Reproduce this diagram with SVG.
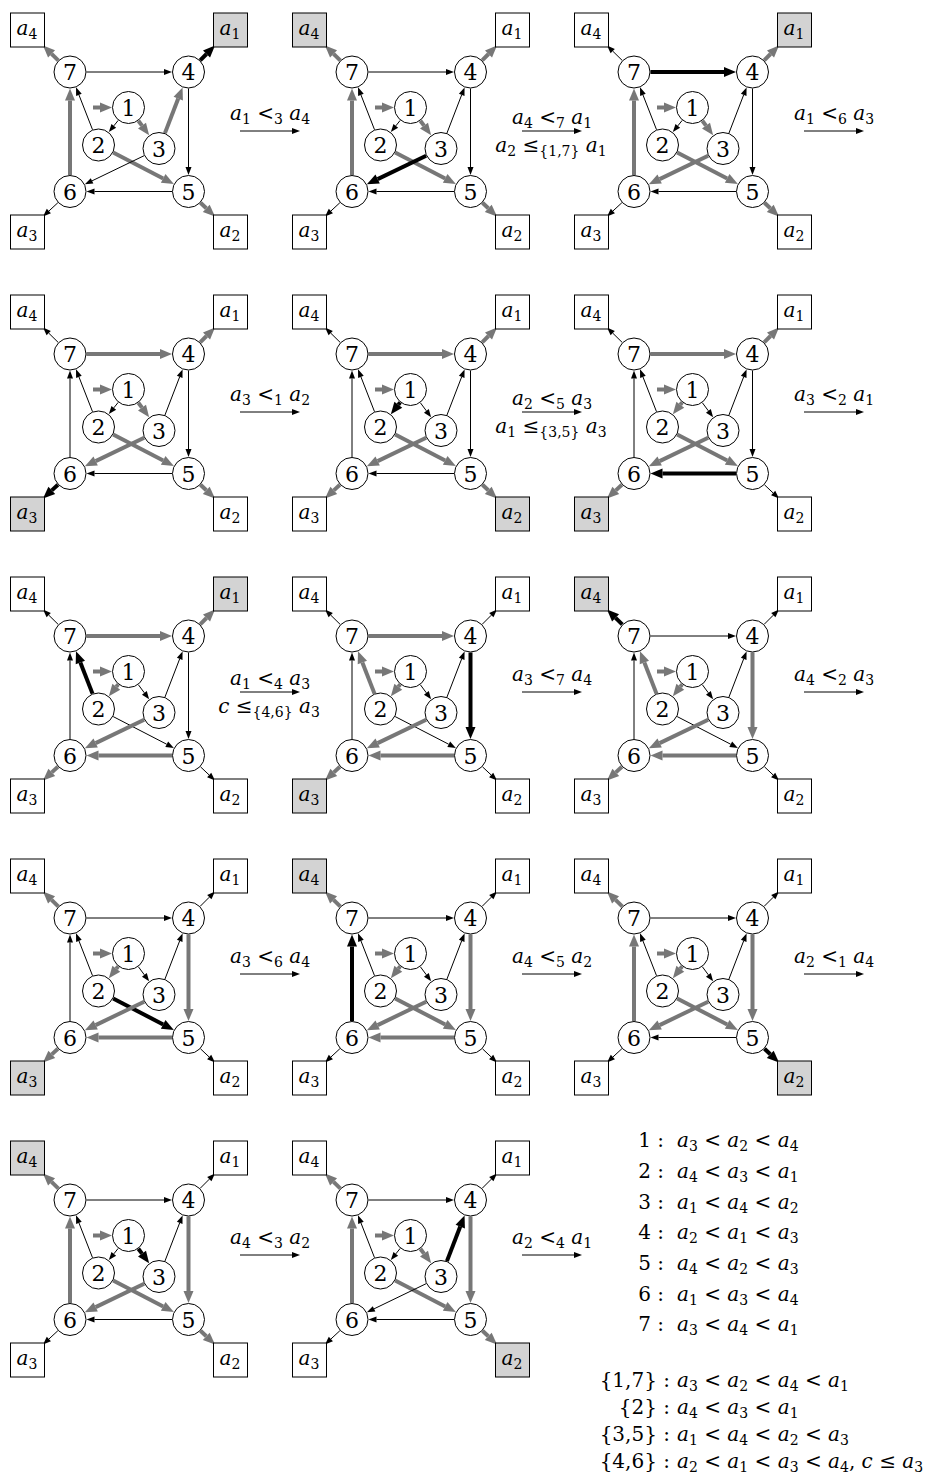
<svg xmlns="http://www.w3.org/2000/svg" width="947" height="1479" viewBox="0 0 947 1479">
<style>
.n circle{fill:#fff;stroke:#000;stroke-width:1}
.b rect{fill:#fff;stroke:#000;stroke-width:1}
.b.h rect{fill:#d3d3d3}
text{font-family:"DejaVu Serif","Liberation Serif",serif;fill:#000}
.d{font-size:22px;text-anchor:middle}
.bt{font-size:20px;text-anchor:middle}
.m{font-size:20px}
.mc{font-size:20px;text-anchor:middle}
.me{font-size:20px;text-anchor:end}
.i{font-style:italic}
.s{font-size:14px}
.et{fill:none;stroke:#000;stroke-width:1;marker-end:url(#mt)}
.eg{fill:none;stroke:#777;stroke-width:4;marker-end:url(#mg)}
.ek{fill:none;stroke:#000;stroke-width:4;marker-end:url(#mk)}
</style>
<defs>
<marker id="mt" markerUnits="userSpaceOnUse" markerWidth="9" markerHeight="7" refX="0" refY="3.5" orient="auto" overflow="visible"><path d="M0,0.5L8,3.5L0,6.5z" fill="#000"/></marker>
<marker id="mg" markerUnits="userSpaceOnUse" markerWidth="12" markerHeight="10" refX="0" refY="5" orient="auto" overflow="visible"><path d="M0,0L12,5L0,10z" fill="#777"/></marker>
<marker id="mk" markerUnits="userSpaceOnUse" markerWidth="12" markerHeight="10" refX="0" refY="5" orient="auto" overflow="visible"><path d="M0,0L12,5L0,10z" fill="#000"/></marker>
<path id="es" d="M93,107.5L100,107.5"/>
<path id="e12t" d="M118.19,120.38L113.81,125.87"/>
<path id="e12k" d="M118.19,120.38L116.31,122.75"/>
<path id="e13t" d="M138.35,120.74L144.37,128.84"/>
<path id="e13k" d="M138.35,120.74L141.99,125.63"/>
<path id="e27t" d="M92.5,129.63L78.91,94.82"/>
<path id="e27k" d="M92.5,129.63L80.36,98.55"/>
<path id="e25t" d="M113.16,152.57L166.73,180.26"/>
<path id="e25k" d="M113.16,152.57L163.18,178.42"/>
<path id="e34t" d="M164.94,133.11L179.68,94.85"/>
<path id="e34k" d="M164.94,133.11L178.24,98.59"/>
<path id="e36t" d="M144.14,155.68L92.06,180.84"/>
<path id="e36k" d="M144.14,155.68L95.66,179.1"/>
<path id="e74t" d="M86.5,72L164,72"/>
<path id="e74k" d="M86.5,72L160,72"/>
<path id="e45t" d="M188.5,88.5L188.5,167"/>
<path id="e45k" d="M188.5,88.5L188.5,163"/>
<path id="e56t" d="M172,191.5L94.5,191.5"/>
<path id="e56k" d="M172,191.5L98.5,191.5"/>
<path id="e67t" d="M70,175L70,96.5"/>
<path id="e67k" d="M70,175L70,100.5"/>
<path id="e7at" d="M58.22,60.44L48.71,51.1"/>
<path id="e7ak" d="M58.22,60.44L51.56,53.91"/>
<path id="e4at" d="M200.17,60.33L209.34,51.16"/>
<path id="e4ak" d="M200.17,60.33L206.51,53.99"/>
<path id="e6at" d="M57.89,202.71L48.87,211.06"/>
<path id="e6ak" d="M57.89,202.71L51.8,208.35"/>
<path id="e5at" d="M200.5,202.82L209.18,211.01"/>
<path id="e5ak" d="M200.5,202.82L206.27,208.27"/>
</defs>

<!-- Panel 1 -->
<g id="panel1" transform="translate(0,0)">
<g id="p1-edges"><use href="#es" class="eg"/><use href="#e12t" class="et"/><use href="#e13k" class="eg"/><use href="#e27t" class="et"/><use href="#e25k" class="eg"/><use href="#e34k" class="eg"/><use href="#e36t" class="et"/><use href="#e74t" class="et"/><use href="#e45t" class="et"/><use href="#e56t" class="et"/><use href="#e67k" class="eg"/><use href="#e7ak" class="eg"/><use href="#e4ak" class="ek"/><use href="#e6at" class="et"/><use href="#e5ak" class="eg"/></g>
<g id="p1-n1" class="n"><circle cx="128.5" cy="107.5" r="16"/><text class="d" x="128.5" y="115.5">1</text></g>
<g id="p1-n2" class="n"><circle cx="98.5" cy="145" r="16"/><text class="d" x="98.5" y="153">2</text></g>
<g id="p1-n3" class="n"><circle cx="159" cy="148.5" r="16"/><text class="d" x="159" y="156.5">3</text></g>
<g id="p1-n4" class="n"><circle cx="188.5" cy="72" r="16"/><text class="d" x="188.5" y="80">4</text></g>
<g id="p1-n5" class="n"><circle cx="188.5" cy="191.5" r="16"/><text class="d" x="188.5" y="199.5">5</text></g>
<g id="p1-n6" class="n"><circle cx="70" cy="191.5" r="16"/><text class="d" x="70" y="199.5">6</text></g>
<g id="p1-n7" class="n"><circle cx="70" cy="72" r="16"/><text class="d" x="70" y="80">7</text></g>
<g id="p1-a4" class="b"><rect x="10.5" y="13" width="34" height="34"/><text class="bt" x="27" y="35"><tspan class="i">a</tspan><tspan class="s" dy="3.5">4</tspan></text></g>
<g id="p1-a1" class="b h"><rect x="213.5" y="13" width="34" height="34"/><text class="bt" x="230" y="35"><tspan class="i">a</tspan><tspan class="s" dy="3.5">1</tspan></text></g>
<g id="p1-a3" class="b"><rect x="10.5" y="215" width="34" height="34"/><text class="bt" x="27" y="237"><tspan class="i">a</tspan><tspan class="s" dy="3.5">3</tspan></text></g>
<g id="p1-a2" class="b"><rect x="213.5" y="215" width="34" height="34"/><text class="bt" x="230" y="237"><tspan class="i">a</tspan><tspan class="s" dy="3.5">2</tspan></text></g>
</g>

<!-- Panel 2 -->
<g id="panel2" transform="translate(282,0)">
<g id="p2-edges"><use href="#es" class="eg"/><use href="#e12t" class="et"/><use href="#e13k" class="eg"/><use href="#e27t" class="et"/><use href="#e25k" class="eg"/><use href="#e34t" class="et"/><use href="#e36k" class="ek"/><use href="#e74t" class="et"/><use href="#e45t" class="et"/><use href="#e56t" class="et"/><use href="#e67k" class="eg"/><use href="#e7ak" class="eg"/><use href="#e4ak" class="eg"/><use href="#e6at" class="et"/><use href="#e5ak" class="eg"/></g>
<g id="p2-n1" class="n"><circle cx="128.5" cy="107.5" r="16"/><text class="d" x="128.5" y="115.5">1</text></g>
<g id="p2-n2" class="n"><circle cx="98.5" cy="145" r="16"/><text class="d" x="98.5" y="153">2</text></g>
<g id="p2-n3" class="n"><circle cx="159" cy="148.5" r="16"/><text class="d" x="159" y="156.5">3</text></g>
<g id="p2-n4" class="n"><circle cx="188.5" cy="72" r="16"/><text class="d" x="188.5" y="80">4</text></g>
<g id="p2-n5" class="n"><circle cx="188.5" cy="191.5" r="16"/><text class="d" x="188.5" y="199.5">5</text></g>
<g id="p2-n6" class="n"><circle cx="70" cy="191.5" r="16"/><text class="d" x="70" y="199.5">6</text></g>
<g id="p2-n7" class="n"><circle cx="70" cy="72" r="16"/><text class="d" x="70" y="80">7</text></g>
<g id="p2-a4" class="b h"><rect x="10.5" y="13" width="34" height="34"/><text class="bt" x="27" y="35"><tspan class="i">a</tspan><tspan class="s" dy="3.5">4</tspan></text></g>
<g id="p2-a1" class="b"><rect x="213.5" y="13" width="34" height="34"/><text class="bt" x="230" y="35"><tspan class="i">a</tspan><tspan class="s" dy="3.5">1</tspan></text></g>
<g id="p2-a3" class="b"><rect x="10.5" y="215" width="34" height="34"/><text class="bt" x="27" y="237"><tspan class="i">a</tspan><tspan class="s" dy="3.5">3</tspan></text></g>
<g id="p2-a2" class="b"><rect x="213.5" y="215" width="34" height="34"/><text class="bt" x="230" y="237"><tspan class="i">a</tspan><tspan class="s" dy="3.5">2</tspan></text></g>
</g>

<!-- Panel 3 -->
<g id="panel3" transform="translate(564,0)">
<g id="p3-edges"><use href="#es" class="eg"/><use href="#e12t" class="et"/><use href="#e13k" class="eg"/><use href="#e27t" class="et"/><use href="#e25k" class="eg"/><use href="#e34t" class="et"/><use href="#e36k" class="eg"/><use href="#e74k" class="ek"/><use href="#e45t" class="et"/><use href="#e56t" class="et"/><use href="#e67k" class="eg"/><use href="#e7at" class="et"/><use href="#e4ak" class="eg"/><use href="#e6at" class="et"/><use href="#e5ak" class="eg"/></g>
<g id="p3-n1" class="n"><circle cx="128.5" cy="107.5" r="16"/><text class="d" x="128.5" y="115.5">1</text></g>
<g id="p3-n2" class="n"><circle cx="98.5" cy="145" r="16"/><text class="d" x="98.5" y="153">2</text></g>
<g id="p3-n3" class="n"><circle cx="159" cy="148.5" r="16"/><text class="d" x="159" y="156.5">3</text></g>
<g id="p3-n4" class="n"><circle cx="188.5" cy="72" r="16"/><text class="d" x="188.5" y="80">4</text></g>
<g id="p3-n5" class="n"><circle cx="188.5" cy="191.5" r="16"/><text class="d" x="188.5" y="199.5">5</text></g>
<g id="p3-n6" class="n"><circle cx="70" cy="191.5" r="16"/><text class="d" x="70" y="199.5">6</text></g>
<g id="p3-n7" class="n"><circle cx="70" cy="72" r="16"/><text class="d" x="70" y="80">7</text></g>
<g id="p3-a4" class="b"><rect x="10.5" y="13" width="34" height="34"/><text class="bt" x="27" y="35"><tspan class="i">a</tspan><tspan class="s" dy="3.5">4</tspan></text></g>
<g id="p3-a1" class="b h"><rect x="213.5" y="13" width="34" height="34"/><text class="bt" x="230" y="35"><tspan class="i">a</tspan><tspan class="s" dy="3.5">1</tspan></text></g>
<g id="p3-a3" class="b"><rect x="10.5" y="215" width="34" height="34"/><text class="bt" x="27" y="237"><tspan class="i">a</tspan><tspan class="s" dy="3.5">3</tspan></text></g>
<g id="p3-a2" class="b"><rect x="213.5" y="215" width="34" height="34"/><text class="bt" x="230" y="237"><tspan class="i">a</tspan><tspan class="s" dy="3.5">2</tspan></text></g>
</g>

<!-- Panel 4 -->
<g id="panel4" transform="translate(0,282)">
<g id="p4-edges"><use href="#es" class="eg"/><use href="#e12t" class="et"/><use href="#e13k" class="eg"/><use href="#e27t" class="et"/><use href="#e25k" class="eg"/><use href="#e34t" class="et"/><use href="#e36k" class="eg"/><use href="#e74k" class="eg"/><use href="#e45t" class="et"/><use href="#e56t" class="et"/><use href="#e67t" class="et"/><use href="#e7at" class="et"/><use href="#e4ak" class="eg"/><use href="#e6ak" class="ek"/><use href="#e5ak" class="eg"/></g>
<g id="p4-n1" class="n"><circle cx="128.5" cy="107.5" r="16"/><text class="d" x="128.5" y="115.5">1</text></g>
<g id="p4-n2" class="n"><circle cx="98.5" cy="145" r="16"/><text class="d" x="98.5" y="153">2</text></g>
<g id="p4-n3" class="n"><circle cx="159" cy="148.5" r="16"/><text class="d" x="159" y="156.5">3</text></g>
<g id="p4-n4" class="n"><circle cx="188.5" cy="72" r="16"/><text class="d" x="188.5" y="80">4</text></g>
<g id="p4-n5" class="n"><circle cx="188.5" cy="191.5" r="16"/><text class="d" x="188.5" y="199.5">5</text></g>
<g id="p4-n6" class="n"><circle cx="70" cy="191.5" r="16"/><text class="d" x="70" y="199.5">6</text></g>
<g id="p4-n7" class="n"><circle cx="70" cy="72" r="16"/><text class="d" x="70" y="80">7</text></g>
<g id="p4-a4" class="b"><rect x="10.5" y="13" width="34" height="34"/><text class="bt" x="27" y="35"><tspan class="i">a</tspan><tspan class="s" dy="3.5">4</tspan></text></g>
<g id="p4-a1" class="b"><rect x="213.5" y="13" width="34" height="34"/><text class="bt" x="230" y="35"><tspan class="i">a</tspan><tspan class="s" dy="3.5">1</tspan></text></g>
<g id="p4-a3" class="b h"><rect x="10.5" y="215" width="34" height="34"/><text class="bt" x="27" y="237"><tspan class="i">a</tspan><tspan class="s" dy="3.5">3</tspan></text></g>
<g id="p4-a2" class="b"><rect x="213.5" y="215" width="34" height="34"/><text class="bt" x="230" y="237"><tspan class="i">a</tspan><tspan class="s" dy="3.5">2</tspan></text></g>
</g>

<!-- Panel 5 -->
<g id="panel5" transform="translate(282,282)">
<g id="p5-edges"><use href="#es" class="eg"/><use href="#e12k" class="ek"/><use href="#e13t" class="et"/><use href="#e27t" class="et"/><use href="#e25k" class="eg"/><use href="#e34t" class="et"/><use href="#e36k" class="eg"/><use href="#e74k" class="eg"/><use href="#e45t" class="et"/><use href="#e56t" class="et"/><use href="#e67t" class="et"/><use href="#e7at" class="et"/><use href="#e4ak" class="eg"/><use href="#e6ak" class="eg"/><use href="#e5ak" class="eg"/></g>
<g id="p5-n1" class="n"><circle cx="128.5" cy="107.5" r="16"/><text class="d" x="128.5" y="115.5">1</text></g>
<g id="p5-n2" class="n"><circle cx="98.5" cy="145" r="16"/><text class="d" x="98.5" y="153">2</text></g>
<g id="p5-n3" class="n"><circle cx="159" cy="148.5" r="16"/><text class="d" x="159" y="156.5">3</text></g>
<g id="p5-n4" class="n"><circle cx="188.5" cy="72" r="16"/><text class="d" x="188.5" y="80">4</text></g>
<g id="p5-n5" class="n"><circle cx="188.5" cy="191.5" r="16"/><text class="d" x="188.5" y="199.5">5</text></g>
<g id="p5-n6" class="n"><circle cx="70" cy="191.5" r="16"/><text class="d" x="70" y="199.5">6</text></g>
<g id="p5-n7" class="n"><circle cx="70" cy="72" r="16"/><text class="d" x="70" y="80">7</text></g>
<g id="p5-a4" class="b"><rect x="10.5" y="13" width="34" height="34"/><text class="bt" x="27" y="35"><tspan class="i">a</tspan><tspan class="s" dy="3.5">4</tspan></text></g>
<g id="p5-a1" class="b"><rect x="213.5" y="13" width="34" height="34"/><text class="bt" x="230" y="35"><tspan class="i">a</tspan><tspan class="s" dy="3.5">1</tspan></text></g>
<g id="p5-a3" class="b"><rect x="10.5" y="215" width="34" height="34"/><text class="bt" x="27" y="237"><tspan class="i">a</tspan><tspan class="s" dy="3.5">3</tspan></text></g>
<g id="p5-a2" class="b h"><rect x="213.5" y="215" width="34" height="34"/><text class="bt" x="230" y="237"><tspan class="i">a</tspan><tspan class="s" dy="3.5">2</tspan></text></g>
</g>

<!-- Panel 6 -->
<g id="panel6" transform="translate(564,282)">
<g id="p6-edges"><use href="#es" class="eg"/><use href="#e12k" class="eg"/><use href="#e13t" class="et"/><use href="#e27t" class="et"/><use href="#e25k" class="eg"/><use href="#e34t" class="et"/><use href="#e36k" class="eg"/><use href="#e74k" class="eg"/><use href="#e45t" class="et"/><use href="#e56k" class="ek"/><use href="#e67t" class="et"/><use href="#e7at" class="et"/><use href="#e4ak" class="eg"/><use href="#e6ak" class="eg"/><use href="#e5at" class="et"/></g>
<g id="p6-n1" class="n"><circle cx="128.5" cy="107.5" r="16"/><text class="d" x="128.5" y="115.5">1</text></g>
<g id="p6-n2" class="n"><circle cx="98.5" cy="145" r="16"/><text class="d" x="98.5" y="153">2</text></g>
<g id="p6-n3" class="n"><circle cx="159" cy="148.5" r="16"/><text class="d" x="159" y="156.5">3</text></g>
<g id="p6-n4" class="n"><circle cx="188.5" cy="72" r="16"/><text class="d" x="188.5" y="80">4</text></g>
<g id="p6-n5" class="n"><circle cx="188.5" cy="191.5" r="16"/><text class="d" x="188.5" y="199.5">5</text></g>
<g id="p6-n6" class="n"><circle cx="70" cy="191.5" r="16"/><text class="d" x="70" y="199.5">6</text></g>
<g id="p6-n7" class="n"><circle cx="70" cy="72" r="16"/><text class="d" x="70" y="80">7</text></g>
<g id="p6-a4" class="b"><rect x="10.5" y="13" width="34" height="34"/><text class="bt" x="27" y="35"><tspan class="i">a</tspan><tspan class="s" dy="3.5">4</tspan></text></g>
<g id="p6-a1" class="b"><rect x="213.5" y="13" width="34" height="34"/><text class="bt" x="230" y="35"><tspan class="i">a</tspan><tspan class="s" dy="3.5">1</tspan></text></g>
<g id="p6-a3" class="b h"><rect x="10.5" y="215" width="34" height="34"/><text class="bt" x="27" y="237"><tspan class="i">a</tspan><tspan class="s" dy="3.5">3</tspan></text></g>
<g id="p6-a2" class="b"><rect x="213.5" y="215" width="34" height="34"/><text class="bt" x="230" y="237"><tspan class="i">a</tspan><tspan class="s" dy="3.5">2</tspan></text></g>
</g>

<!-- Panel 7 -->
<g id="panel7" transform="translate(0,564)">
<g id="p7-edges"><use href="#es" class="eg"/><use href="#e12k" class="eg"/><use href="#e13t" class="et"/><use href="#e27k" class="ek"/><use href="#e25t" class="et"/><use href="#e34t" class="et"/><use href="#e36k" class="eg"/><use href="#e74k" class="eg"/><use href="#e45t" class="et"/><use href="#e56k" class="eg"/><use href="#e67t" class="et"/><use href="#e7at" class="et"/><use href="#e4ak" class="eg"/><use href="#e6ak" class="eg"/><use href="#e5at" class="et"/></g>
<g id="p7-n1" class="n"><circle cx="128.5" cy="107.5" r="16"/><text class="d" x="128.5" y="115.5">1</text></g>
<g id="p7-n2" class="n"><circle cx="98.5" cy="145" r="16"/><text class="d" x="98.5" y="153">2</text></g>
<g id="p7-n3" class="n"><circle cx="159" cy="148.5" r="16"/><text class="d" x="159" y="156.5">3</text></g>
<g id="p7-n4" class="n"><circle cx="188.5" cy="72" r="16"/><text class="d" x="188.5" y="80">4</text></g>
<g id="p7-n5" class="n"><circle cx="188.5" cy="191.5" r="16"/><text class="d" x="188.5" y="199.5">5</text></g>
<g id="p7-n6" class="n"><circle cx="70" cy="191.5" r="16"/><text class="d" x="70" y="199.5">6</text></g>
<g id="p7-n7" class="n"><circle cx="70" cy="72" r="16"/><text class="d" x="70" y="80">7</text></g>
<g id="p7-a4" class="b"><rect x="10.5" y="13" width="34" height="34"/><text class="bt" x="27" y="35"><tspan class="i">a</tspan><tspan class="s" dy="3.5">4</tspan></text></g>
<g id="p7-a1" class="b h"><rect x="213.5" y="13" width="34" height="34"/><text class="bt" x="230" y="35"><tspan class="i">a</tspan><tspan class="s" dy="3.5">1</tspan></text></g>
<g id="p7-a3" class="b"><rect x="10.5" y="215" width="34" height="34"/><text class="bt" x="27" y="237"><tspan class="i">a</tspan><tspan class="s" dy="3.5">3</tspan></text></g>
<g id="p7-a2" class="b"><rect x="213.5" y="215" width="34" height="34"/><text class="bt" x="230" y="237"><tspan class="i">a</tspan><tspan class="s" dy="3.5">2</tspan></text></g>
</g>

<!-- Panel 8 -->
<g id="panel8" transform="translate(282,564)">
<g id="p8-edges"><use href="#es" class="eg"/><use href="#e12k" class="eg"/><use href="#e13t" class="et"/><use href="#e27k" class="eg"/><use href="#e25t" class="et"/><use href="#e34t" class="et"/><use href="#e36k" class="eg"/><use href="#e74k" class="eg"/><use href="#e45k" class="ek"/><use href="#e56k" class="eg"/><use href="#e67t" class="et"/><use href="#e7at" class="et"/><use href="#e4at" class="et"/><use href="#e6ak" class="eg"/><use href="#e5at" class="et"/></g>
<g id="p8-n1" class="n"><circle cx="128.5" cy="107.5" r="16"/><text class="d" x="128.5" y="115.5">1</text></g>
<g id="p8-n2" class="n"><circle cx="98.5" cy="145" r="16"/><text class="d" x="98.5" y="153">2</text></g>
<g id="p8-n3" class="n"><circle cx="159" cy="148.5" r="16"/><text class="d" x="159" y="156.5">3</text></g>
<g id="p8-n4" class="n"><circle cx="188.5" cy="72" r="16"/><text class="d" x="188.5" y="80">4</text></g>
<g id="p8-n5" class="n"><circle cx="188.5" cy="191.5" r="16"/><text class="d" x="188.5" y="199.5">5</text></g>
<g id="p8-n6" class="n"><circle cx="70" cy="191.5" r="16"/><text class="d" x="70" y="199.5">6</text></g>
<g id="p8-n7" class="n"><circle cx="70" cy="72" r="16"/><text class="d" x="70" y="80">7</text></g>
<g id="p8-a4" class="b"><rect x="10.5" y="13" width="34" height="34"/><text class="bt" x="27" y="35"><tspan class="i">a</tspan><tspan class="s" dy="3.5">4</tspan></text></g>
<g id="p8-a1" class="b"><rect x="213.5" y="13" width="34" height="34"/><text class="bt" x="230" y="35"><tspan class="i">a</tspan><tspan class="s" dy="3.5">1</tspan></text></g>
<g id="p8-a3" class="b h"><rect x="10.5" y="215" width="34" height="34"/><text class="bt" x="27" y="237"><tspan class="i">a</tspan><tspan class="s" dy="3.5">3</tspan></text></g>
<g id="p8-a2" class="b"><rect x="213.5" y="215" width="34" height="34"/><text class="bt" x="230" y="237"><tspan class="i">a</tspan><tspan class="s" dy="3.5">2</tspan></text></g>
</g>

<!-- Panel 9 -->
<g id="panel9" transform="translate(564,564)">
<g id="p9-edges"><use href="#es" class="eg"/><use href="#e12k" class="eg"/><use href="#e13t" class="et"/><use href="#e27k" class="eg"/><use href="#e25t" class="et"/><use href="#e34t" class="et"/><use href="#e36k" class="eg"/><use href="#e74t" class="et"/><use href="#e45k" class="eg"/><use href="#e56k" class="eg"/><use href="#e67t" class="et"/><use href="#e7ak" class="ek"/><use href="#e4at" class="et"/><use href="#e6ak" class="eg"/><use href="#e5at" class="et"/></g>
<g id="p9-n1" class="n"><circle cx="128.5" cy="107.5" r="16"/><text class="d" x="128.5" y="115.5">1</text></g>
<g id="p9-n2" class="n"><circle cx="98.5" cy="145" r="16"/><text class="d" x="98.5" y="153">2</text></g>
<g id="p9-n3" class="n"><circle cx="159" cy="148.5" r="16"/><text class="d" x="159" y="156.5">3</text></g>
<g id="p9-n4" class="n"><circle cx="188.5" cy="72" r="16"/><text class="d" x="188.5" y="80">4</text></g>
<g id="p9-n5" class="n"><circle cx="188.5" cy="191.5" r="16"/><text class="d" x="188.5" y="199.5">5</text></g>
<g id="p9-n6" class="n"><circle cx="70" cy="191.5" r="16"/><text class="d" x="70" y="199.5">6</text></g>
<g id="p9-n7" class="n"><circle cx="70" cy="72" r="16"/><text class="d" x="70" y="80">7</text></g>
<g id="p9-a4" class="b h"><rect x="10.5" y="13" width="34" height="34"/><text class="bt" x="27" y="35"><tspan class="i">a</tspan><tspan class="s" dy="3.5">4</tspan></text></g>
<g id="p9-a1" class="b"><rect x="213.5" y="13" width="34" height="34"/><text class="bt" x="230" y="35"><tspan class="i">a</tspan><tspan class="s" dy="3.5">1</tspan></text></g>
<g id="p9-a3" class="b"><rect x="10.5" y="215" width="34" height="34"/><text class="bt" x="27" y="237"><tspan class="i">a</tspan><tspan class="s" dy="3.5">3</tspan></text></g>
<g id="p9-a2" class="b"><rect x="213.5" y="215" width="34" height="34"/><text class="bt" x="230" y="237"><tspan class="i">a</tspan><tspan class="s" dy="3.5">2</tspan></text></g>
</g>

<!-- Panel 10 -->
<g id="panel10" transform="translate(0,846)">
<g id="p10-edges"><use href="#es" class="eg"/><use href="#e12k" class="eg"/><use href="#e13t" class="et"/><use href="#e27t" class="et"/><use href="#e25k" class="ek"/><use href="#e34t" class="et"/><use href="#e36k" class="eg"/><use href="#e74t" class="et"/><use href="#e45k" class="eg"/><use href="#e56k" class="eg"/><use href="#e67t" class="et"/><use href="#e7ak" class="eg"/><use href="#e4at" class="et"/><use href="#e6ak" class="eg"/><use href="#e5at" class="et"/></g>
<g id="p10-n1" class="n"><circle cx="128.5" cy="107.5" r="16"/><text class="d" x="128.5" y="115.5">1</text></g>
<g id="p10-n2" class="n"><circle cx="98.5" cy="145" r="16"/><text class="d" x="98.5" y="153">2</text></g>
<g id="p10-n3" class="n"><circle cx="159" cy="148.5" r="16"/><text class="d" x="159" y="156.5">3</text></g>
<g id="p10-n4" class="n"><circle cx="188.5" cy="72" r="16"/><text class="d" x="188.5" y="80">4</text></g>
<g id="p10-n5" class="n"><circle cx="188.5" cy="191.5" r="16"/><text class="d" x="188.5" y="199.5">5</text></g>
<g id="p10-n6" class="n"><circle cx="70" cy="191.5" r="16"/><text class="d" x="70" y="199.5">6</text></g>
<g id="p10-n7" class="n"><circle cx="70" cy="72" r="16"/><text class="d" x="70" y="80">7</text></g>
<g id="p10-a4" class="b"><rect x="10.5" y="13" width="34" height="34"/><text class="bt" x="27" y="35"><tspan class="i">a</tspan><tspan class="s" dy="3.5">4</tspan></text></g>
<g id="p10-a1" class="b"><rect x="213.5" y="13" width="34" height="34"/><text class="bt" x="230" y="35"><tspan class="i">a</tspan><tspan class="s" dy="3.5">1</tspan></text></g>
<g id="p10-a3" class="b h"><rect x="10.5" y="215" width="34" height="34"/><text class="bt" x="27" y="237"><tspan class="i">a</tspan><tspan class="s" dy="3.5">3</tspan></text></g>
<g id="p10-a2" class="b"><rect x="213.5" y="215" width="34" height="34"/><text class="bt" x="230" y="237"><tspan class="i">a</tspan><tspan class="s" dy="3.5">2</tspan></text></g>
</g>

<!-- Panel 11 -->
<g id="panel11" transform="translate(282,846)">
<g id="p11-edges"><use href="#es" class="eg"/><use href="#e12k" class="eg"/><use href="#e13t" class="et"/><use href="#e27t" class="et"/><use href="#e25k" class="eg"/><use href="#e34t" class="et"/><use href="#e36k" class="eg"/><use href="#e74t" class="et"/><use href="#e45k" class="eg"/><use href="#e56k" class="eg"/><use href="#e67k" class="ek"/><use href="#e7ak" class="eg"/><use href="#e4at" class="et"/><use href="#e6at" class="et"/><use href="#e5at" class="et"/></g>
<g id="p11-n1" class="n"><circle cx="128.5" cy="107.5" r="16"/><text class="d" x="128.5" y="115.5">1</text></g>
<g id="p11-n2" class="n"><circle cx="98.5" cy="145" r="16"/><text class="d" x="98.5" y="153">2</text></g>
<g id="p11-n3" class="n"><circle cx="159" cy="148.5" r="16"/><text class="d" x="159" y="156.5">3</text></g>
<g id="p11-n4" class="n"><circle cx="188.5" cy="72" r="16"/><text class="d" x="188.5" y="80">4</text></g>
<g id="p11-n5" class="n"><circle cx="188.5" cy="191.5" r="16"/><text class="d" x="188.5" y="199.5">5</text></g>
<g id="p11-n6" class="n"><circle cx="70" cy="191.5" r="16"/><text class="d" x="70" y="199.5">6</text></g>
<g id="p11-n7" class="n"><circle cx="70" cy="72" r="16"/><text class="d" x="70" y="80">7</text></g>
<g id="p11-a4" class="b h"><rect x="10.5" y="13" width="34" height="34"/><text class="bt" x="27" y="35"><tspan class="i">a</tspan><tspan class="s" dy="3.5">4</tspan></text></g>
<g id="p11-a1" class="b"><rect x="213.5" y="13" width="34" height="34"/><text class="bt" x="230" y="35"><tspan class="i">a</tspan><tspan class="s" dy="3.5">1</tspan></text></g>
<g id="p11-a3" class="b"><rect x="10.5" y="215" width="34" height="34"/><text class="bt" x="27" y="237"><tspan class="i">a</tspan><tspan class="s" dy="3.5">3</tspan></text></g>
<g id="p11-a2" class="b"><rect x="213.5" y="215" width="34" height="34"/><text class="bt" x="230" y="237"><tspan class="i">a</tspan><tspan class="s" dy="3.5">2</tspan></text></g>
</g>

<!-- Panel 12 -->
<g id="panel12" transform="translate(564,846)">
<g id="p12-edges"><use href="#es" class="eg"/><use href="#e12k" class="eg"/><use href="#e13t" class="et"/><use href="#e27t" class="et"/><use href="#e25k" class="eg"/><use href="#e34t" class="et"/><use href="#e36k" class="eg"/><use href="#e74t" class="et"/><use href="#e45k" class="eg"/><use href="#e56t" class="et"/><use href="#e67k" class="eg"/><use href="#e7ak" class="eg"/><use href="#e4at" class="et"/><use href="#e6at" class="et"/><use href="#e5ak" class="ek"/></g>
<g id="p12-n1" class="n"><circle cx="128.5" cy="107.5" r="16"/><text class="d" x="128.5" y="115.5">1</text></g>
<g id="p12-n2" class="n"><circle cx="98.5" cy="145" r="16"/><text class="d" x="98.5" y="153">2</text></g>
<g id="p12-n3" class="n"><circle cx="159" cy="148.5" r="16"/><text class="d" x="159" y="156.5">3</text></g>
<g id="p12-n4" class="n"><circle cx="188.5" cy="72" r="16"/><text class="d" x="188.5" y="80">4</text></g>
<g id="p12-n5" class="n"><circle cx="188.5" cy="191.5" r="16"/><text class="d" x="188.5" y="199.5">5</text></g>
<g id="p12-n6" class="n"><circle cx="70" cy="191.5" r="16"/><text class="d" x="70" y="199.5">6</text></g>
<g id="p12-n7" class="n"><circle cx="70" cy="72" r="16"/><text class="d" x="70" y="80">7</text></g>
<g id="p12-a4" class="b"><rect x="10.5" y="13" width="34" height="34"/><text class="bt" x="27" y="35"><tspan class="i">a</tspan><tspan class="s" dy="3.5">4</tspan></text></g>
<g id="p12-a1" class="b"><rect x="213.5" y="13" width="34" height="34"/><text class="bt" x="230" y="35"><tspan class="i">a</tspan><tspan class="s" dy="3.5">1</tspan></text></g>
<g id="p12-a3" class="b"><rect x="10.5" y="215" width="34" height="34"/><text class="bt" x="27" y="237"><tspan class="i">a</tspan><tspan class="s" dy="3.5">3</tspan></text></g>
<g id="p12-a2" class="b h"><rect x="213.5" y="215" width="34" height="34"/><text class="bt" x="230" y="237"><tspan class="i">a</tspan><tspan class="s" dy="3.5">2</tspan></text></g>
</g>

<!-- Panel 13 -->
<g id="panel13" transform="translate(0,1128)">
<g id="p13-edges"><use href="#es" class="eg"/><use href="#e12t" class="et"/><use href="#e13k" class="ek"/><use href="#e27t" class="et"/><use href="#e25k" class="eg"/><use href="#e34t" class="et"/><use href="#e36k" class="eg"/><use href="#e74t" class="et"/><use href="#e45k" class="eg"/><use href="#e56t" class="et"/><use href="#e67k" class="eg"/><use href="#e7ak" class="eg"/><use href="#e4at" class="et"/><use href="#e6at" class="et"/><use href="#e5ak" class="eg"/></g>
<g id="p13-n1" class="n"><circle cx="128.5" cy="107.5" r="16"/><text class="d" x="128.5" y="115.5">1</text></g>
<g id="p13-n2" class="n"><circle cx="98.5" cy="145" r="16"/><text class="d" x="98.5" y="153">2</text></g>
<g id="p13-n3" class="n"><circle cx="159" cy="148.5" r="16"/><text class="d" x="159" y="156.5">3</text></g>
<g id="p13-n4" class="n"><circle cx="188.5" cy="72" r="16"/><text class="d" x="188.5" y="80">4</text></g>
<g id="p13-n5" class="n"><circle cx="188.5" cy="191.5" r="16"/><text class="d" x="188.5" y="199.5">5</text></g>
<g id="p13-n6" class="n"><circle cx="70" cy="191.5" r="16"/><text class="d" x="70" y="199.5">6</text></g>
<g id="p13-n7" class="n"><circle cx="70" cy="72" r="16"/><text class="d" x="70" y="80">7</text></g>
<g id="p13-a4" class="b h"><rect x="10.5" y="13" width="34" height="34"/><text class="bt" x="27" y="35"><tspan class="i">a</tspan><tspan class="s" dy="3.5">4</tspan></text></g>
<g id="p13-a1" class="b"><rect x="213.5" y="13" width="34" height="34"/><text class="bt" x="230" y="35"><tspan class="i">a</tspan><tspan class="s" dy="3.5">1</tspan></text></g>
<g id="p13-a3" class="b"><rect x="10.5" y="215" width="34" height="34"/><text class="bt" x="27" y="237"><tspan class="i">a</tspan><tspan class="s" dy="3.5">3</tspan></text></g>
<g id="p13-a2" class="b"><rect x="213.5" y="215" width="34" height="34"/><text class="bt" x="230" y="237"><tspan class="i">a</tspan><tspan class="s" dy="3.5">2</tspan></text></g>
</g>

<!-- Panel 14 -->
<g id="panel14" transform="translate(282,1128)">
<g id="p14-edges"><use href="#es" class="eg"/><use href="#e12t" class="et"/><use href="#e13k" class="eg"/><use href="#e27t" class="et"/><use href="#e25k" class="eg"/><use href="#e34k" class="ek"/><use href="#e36t" class="et"/><use href="#e74t" class="et"/><use href="#e45k" class="eg"/><use href="#e56t" class="et"/><use href="#e67k" class="eg"/><use href="#e7ak" class="eg"/><use href="#e4at" class="et"/><use href="#e6at" class="et"/><use href="#e5ak" class="eg"/></g>
<g id="p14-n1" class="n"><circle cx="128.5" cy="107.5" r="16"/><text class="d" x="128.5" y="115.5">1</text></g>
<g id="p14-n2" class="n"><circle cx="98.5" cy="145" r="16"/><text class="d" x="98.5" y="153">2</text></g>
<g id="p14-n3" class="n"><circle cx="159" cy="148.5" r="16"/><text class="d" x="159" y="156.5">3</text></g>
<g id="p14-n4" class="n"><circle cx="188.5" cy="72" r="16"/><text class="d" x="188.5" y="80">4</text></g>
<g id="p14-n5" class="n"><circle cx="188.5" cy="191.5" r="16"/><text class="d" x="188.5" y="199.5">5</text></g>
<g id="p14-n6" class="n"><circle cx="70" cy="191.5" r="16"/><text class="d" x="70" y="199.5">6</text></g>
<g id="p14-n7" class="n"><circle cx="70" cy="72" r="16"/><text class="d" x="70" y="80">7</text></g>
<g id="p14-a4" class="b"><rect x="10.5" y="13" width="34" height="34"/><text class="bt" x="27" y="35"><tspan class="i">a</tspan><tspan class="s" dy="3.5">4</tspan></text></g>
<g id="p14-a1" class="b"><rect x="213.5" y="13" width="34" height="34"/><text class="bt" x="230" y="35"><tspan class="i">a</tspan><tspan class="s" dy="3.5">1</tspan></text></g>
<g id="p14-a3" class="b"><rect x="10.5" y="215" width="34" height="34"/><text class="bt" x="27" y="237"><tspan class="i">a</tspan><tspan class="s" dy="3.5">3</tspan></text></g>
<g id="p14-a2" class="b h"><rect x="213.5" y="215" width="34" height="34"/><text class="bt" x="230" y="237"><tspan class="i">a</tspan><tspan class="s" dy="3.5">2</tspan></text></g>
</g>

<!-- Transition arrows -->
<g id="transition-arrows">
<path class="et" d="M240,131H292"/>
<path class="et" d="M522,131H574"/>
<path class="et" d="M804,131H856"/>
<path class="et" d="M240,412H292"/>
<path class="et" d="M522,412H574"/>
<path class="et" d="M804,412H856"/>
<path class="et" d="M240,692H292"/>
<path class="et" d="M522,692H574"/>
<path class="et" d="M804,692H856"/>
<path class="et" d="M240,974H292"/>
<path class="et" d="M522,974H574"/>
<path class="et" d="M804,974H856"/>
<path class="et" d="M240,1255H292"/>
<path class="et" d="M522,1255H574"/>
</g>

<g id="transition-labels">
<text class="mc" x="270" y="120"><tspan class="i">a</tspan><tspan class="s" dy="3.5">1</tspan><tspan dy="-3.5"> &lt;</tspan><tspan class="s" dy="3.5">3</tspan><tspan class="i" dy="-3.5"> a</tspan><tspan class="s" dy="3.5">4</tspan></text>
<text class="mc" x="552" y="124"><tspan class="i">a</tspan><tspan class="s" dy="3.5">4</tspan><tspan dy="-3.5"> &lt;</tspan><tspan class="s" dy="3.5">7</tspan><tspan class="i" dy="-3.5"> a</tspan><tspan class="s" dy="3.5">1</tspan></text>
<text class="mc" x="551" y="152"><tspan class="i">a</tspan><tspan class="s" dy="3.5">2</tspan><tspan dy="-3.5"> ≤</tspan><tspan class="s" dy="3.5">{1,7}</tspan><tspan class="i" dy="-3.5"> a</tspan><tspan class="s" dy="3.5">1</tspan></text>
<text class="mc" x="834" y="120"><tspan class="i">a</tspan><tspan class="s" dy="3.5">1</tspan><tspan dy="-3.5"> &lt;</tspan><tspan class="s" dy="3.5">6</tspan><tspan class="i" dy="-3.5"> a</tspan><tspan class="s" dy="3.5">3</tspan></text>

<text class="mc" x="270" y="401"><tspan class="i">a</tspan><tspan class="s" dy="3.5">3</tspan><tspan dy="-3.5"> &lt;</tspan><tspan class="s" dy="3.5">1</tspan><tspan class="i" dy="-3.5"> a</tspan><tspan class="s" dy="3.5">2</tspan></text>
<text class="mc" x="552" y="405"><tspan class="i">a</tspan><tspan class="s" dy="3.5">2</tspan><tspan dy="-3.5"> &lt;</tspan><tspan class="s" dy="3.5">5</tspan><tspan class="i" dy="-3.5"> a</tspan><tspan class="s" dy="3.5">3</tspan></text>
<text class="mc" x="551" y="433"><tspan class="i">a</tspan><tspan class="s" dy="3.5">1</tspan><tspan dy="-3.5"> ≤</tspan><tspan class="s" dy="3.5">{3,5}</tspan><tspan class="i" dy="-3.5"> a</tspan><tspan class="s" dy="3.5">3</tspan></text>
<text class="mc" x="834" y="401"><tspan class="i">a</tspan><tspan class="s" dy="3.5">3</tspan><tspan dy="-3.5"> &lt;</tspan><tspan class="s" dy="3.5">2</tspan><tspan class="i" dy="-3.5"> a</tspan><tspan class="s" dy="3.5">1</tspan></text>

<text class="mc" x="270" y="685"><tspan class="i">a</tspan><tspan class="s" dy="3.5">1</tspan><tspan dy="-3.5"> &lt;</tspan><tspan class="s" dy="3.5">4</tspan><tspan class="i" dy="-3.5"> a</tspan><tspan class="s" dy="3.5">3</tspan></text>
<text class="mc" x="269" y="713"><tspan class="i">c</tspan><tspan> ≤</tspan><tspan class="s" dy="3.5">{4,6}</tspan><tspan class="i" dy="-3.5"> a</tspan><tspan class="s" dy="3.5">3</tspan></text>
<text class="mc" x="552" y="681"><tspan class="i">a</tspan><tspan class="s" dy="3.5">3</tspan><tspan dy="-3.5"> &lt;</tspan><tspan class="s" dy="3.5">7</tspan><tspan class="i" dy="-3.5"> a</tspan><tspan class="s" dy="3.5">4</tspan></text>
<text class="mc" x="834" y="681"><tspan class="i">a</tspan><tspan class="s" dy="3.5">4</tspan><tspan dy="-3.5"> &lt;</tspan><tspan class="s" dy="3.5">2</tspan><tspan class="i" dy="-3.5"> a</tspan><tspan class="s" dy="3.5">3</tspan></text>

<text class="mc" x="270" y="963"><tspan class="i">a</tspan><tspan class="s" dy="3.5">3</tspan><tspan dy="-3.5"> &lt;</tspan><tspan class="s" dy="3.5">6</tspan><tspan class="i" dy="-3.5"> a</tspan><tspan class="s" dy="3.5">4</tspan></text>
<text class="mc" x="552" y="963"><tspan class="i">a</tspan><tspan class="s" dy="3.5">4</tspan><tspan dy="-3.5"> &lt;</tspan><tspan class="s" dy="3.5">5</tspan><tspan class="i" dy="-3.5"> a</tspan><tspan class="s" dy="3.5">2</tspan></text>
<text class="mc" x="834" y="963"><tspan class="i">a</tspan><tspan class="s" dy="3.5">2</tspan><tspan dy="-3.5"> &lt;</tspan><tspan class="s" dy="3.5">1</tspan><tspan class="i" dy="-3.5"> a</tspan><tspan class="s" dy="3.5">4</tspan></text>

<text class="mc" x="270" y="1244"><tspan class="i">a</tspan><tspan class="s" dy="3.5">4</tspan><tspan dy="-3.5"> &lt;</tspan><tspan class="s" dy="3.5">3</tspan><tspan class="i" dy="-3.5"> a</tspan><tspan class="s" dy="3.5">2</tspan></text>
<text class="mc" x="552" y="1244"><tspan class="i">a</tspan><tspan class="s" dy="3.5">2</tspan><tspan dy="-3.5"> &lt;</tspan><tspan class="s" dy="3.5">4</tspan><tspan class="i" dy="-3.5"> a</tspan><tspan class="s" dy="3.5">1</tspan></text>
</g>

<!-- Legend -->
<g id="legend">
<text class="me" x="664" y="1147">1 :</text>
<text class="m" x="677" y="1147"><tspan class="i">a</tspan><tspan class="s" dy="3.5">3</tspan><tspan dy="-3.5"> &lt; </tspan><tspan class="i">a</tspan><tspan class="s" dy="3.5">2</tspan><tspan dy="-3.5"> &lt; </tspan><tspan class="i">a</tspan><tspan class="s" dy="3.5">4</tspan></text>
<text class="me" x="664" y="1178">2 :</text>
<text class="m" x="677" y="1178"><tspan class="i">a</tspan><tspan class="s" dy="3.5">4</tspan><tspan dy="-3.5"> &lt; </tspan><tspan class="i">a</tspan><tspan class="s" dy="3.5">3</tspan><tspan dy="-3.5"> &lt; </tspan><tspan class="i">a</tspan><tspan class="s" dy="3.5">1</tspan></text>
<text class="me" x="664" y="1209">3 :</text>
<text class="m" x="677" y="1209"><tspan class="i">a</tspan><tspan class="s" dy="3.5">1</tspan><tspan dy="-3.5"> &lt; </tspan><tspan class="i">a</tspan><tspan class="s" dy="3.5">4</tspan><tspan dy="-3.5"> &lt; </tspan><tspan class="i">a</tspan><tspan class="s" dy="3.5">2</tspan></text>
<text class="me" x="664" y="1239">4 :</text>
<text class="m" x="677" y="1239"><tspan class="i">a</tspan><tspan class="s" dy="3.5">2</tspan><tspan dy="-3.5"> &lt; </tspan><tspan class="i">a</tspan><tspan class="s" dy="3.5">1</tspan><tspan dy="-3.5"> &lt; </tspan><tspan class="i">a</tspan><tspan class="s" dy="3.5">3</tspan></text>
<text class="me" x="664" y="1270">5 :</text>
<text class="m" x="677" y="1270"><tspan class="i">a</tspan><tspan class="s" dy="3.5">4</tspan><tspan dy="-3.5"> &lt; </tspan><tspan class="i">a</tspan><tspan class="s" dy="3.5">2</tspan><tspan dy="-3.5"> &lt; </tspan><tspan class="i">a</tspan><tspan class="s" dy="3.5">3</tspan></text>
<text class="me" x="664" y="1301">6 :</text>
<text class="m" x="677" y="1301"><tspan class="i">a</tspan><tspan class="s" dy="3.5">1</tspan><tspan dy="-3.5"> &lt; </tspan><tspan class="i">a</tspan><tspan class="s" dy="3.5">3</tspan><tspan dy="-3.5"> &lt; </tspan><tspan class="i">a</tspan><tspan class="s" dy="3.5">4</tspan></text>
<text class="me" x="664" y="1331">7 :</text>
<text class="m" x="677" y="1331"><tspan class="i">a</tspan><tspan class="s" dy="3.5">3</tspan><tspan dy="-3.5"> &lt; </tspan><tspan class="i">a</tspan><tspan class="s" dy="3.5">4</tspan><tspan dy="-3.5"> &lt; </tspan><tspan class="i">a</tspan><tspan class="s" dy="3.5">1</tspan></text>

<text class="me" x="670" y="1387">{1,7} :</text>
<text class="m" x="677" y="1387"><tspan class="i">a</tspan><tspan class="s" dy="3.5">3</tspan><tspan dy="-3.5"> &lt; </tspan><tspan class="i">a</tspan><tspan class="s" dy="3.5">2</tspan><tspan dy="-3.5"> &lt; </tspan><tspan class="i">a</tspan><tspan class="s" dy="3.5">4</tspan><tspan dy="-3.5"> &lt; </tspan><tspan class="i">a</tspan><tspan class="s" dy="3.5">1</tspan></text>
<text class="me" x="670" y="1414">{2} :</text>
<text class="m" x="677" y="1414"><tspan class="i">a</tspan><tspan class="s" dy="3.5">4</tspan><tspan dy="-3.5"> &lt; </tspan><tspan class="i">a</tspan><tspan class="s" dy="3.5">3</tspan><tspan dy="-3.5"> &lt; </tspan><tspan class="i">a</tspan><tspan class="s" dy="3.5">1</tspan></text>
<text class="me" x="670" y="1441">{3,5} :</text>
<text class="m" x="677" y="1441"><tspan class="i">a</tspan><tspan class="s" dy="3.5">1</tspan><tspan dy="-3.5"> &lt; </tspan><tspan class="i">a</tspan><tspan class="s" dy="3.5">4</tspan><tspan dy="-3.5"> &lt; </tspan><tspan class="i">a</tspan><tspan class="s" dy="3.5">2</tspan><tspan dy="-3.5"> &lt; </tspan><tspan class="i">a</tspan><tspan class="s" dy="3.5">3</tspan></text>
<text class="me" x="670" y="1468">{4,6} :</text>
<text class="m" x="677" y="1468"><tspan class="i">a</tspan><tspan class="s" dy="3.5">2</tspan><tspan dy="-3.5"> &lt; </tspan><tspan class="i">a</tspan><tspan class="s" dy="3.5">1</tspan><tspan dy="-3.5"> &lt; </tspan><tspan class="i">a</tspan><tspan class="s" dy="3.5">3</tspan><tspan dy="-3.5"> &lt; </tspan><tspan class="i">a</tspan><tspan class="s" dy="3.5">4</tspan><tspan dy="-3.5">,  </tspan><tspan class="i">c</tspan><tspan> ≤ </tspan><tspan class="i">a</tspan><tspan class="s" dy="3.5">3</tspan></text>
</g>
</svg>
